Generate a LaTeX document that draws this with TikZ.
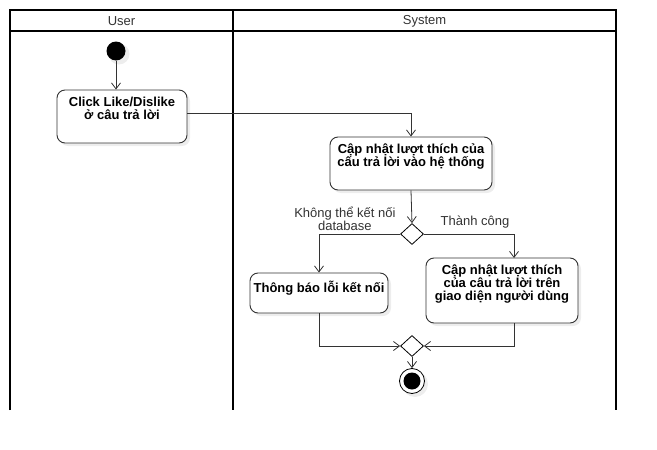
\documentclass[tikz,border=0pt]{standalone}
\usepackage{fontspec}
\setmainfont{Liberation Sans}
\usetikzlibrary{arrows.meta,shapes.geometric}
\definecolor{lnc}{HTML}{333333}
\definecolor{shd}{HTML}{EDEDED}
\tikzset{
  lane/.style={line width=2pt, black},
  actbox/.style={draw=lnc, line width=0.9pt, rounded corners=8pt, fill=white, inner sep=0pt},
  acttxt/.style={font=\bfseries\fontsize{13}{12.8}\selectfont, align=center, anchor=north, inner sep=0pt, text=black},
  hdr/.style={font=\fontsize{13}{13}\selectfont, text=lnc},
  lbl/.style={font=\fontsize{13}{13.5}\selectfont, text=lnc, align=center},
  flow/.style={draw=lnc, line width=0.8pt, -{Straight Barb[length=6pt,width=9pt,line width=0.8pt]}},
  decision/.style={draw=black, line width=0.8pt, fill=white, diamond, minimum width=23pt, minimum height=21pt, inner sep=0pt, aspect=1.1},
  shadowbox/.style={fill=shd, rounded corners=8pt, draw=none},
}
\begin{document}
\begin{tikzpicture}[x=1pt,y=-1pt]
\useasboundingbox (0,0) rectangle (657,450);
% swimlanes
\draw[lane] (10,410) -- (10,10) -- (616,10) -- (616,410);
\draw[lane] (233,10) -- (233,410);
\draw[lane] (10,31) -- (616,31);
\node[hdr] (hu) at (121.5,21.5) {User};
\node[hdr] (hs) at (424.5,21.5) {System};
% shadows
\fill[shadowbox] (60,93) rectangle (190,146);
\fill[shadowbox] (333,140) rectangle (495,193);
\fill[shadowbox] (253,276) rectangle (391,316);
\fill[shadowbox] (429,261) rectangle (581,326);
\fill[shd] (119,54) circle (10.5);
% initial node
\node[circle, fill=black, minimum size=19pt, inner sep=0pt] (start) at (116,51) {};
% actions
\node[actbox, minimum width=130pt, minimum height=53pt] (a1) at (122,116.5) {};
\node[acttxt] (t1) at ([yshift=-7.5pt]a1.north) {Click Like/Dislike\\ở câu trả lời};
\node[actbox, minimum width=162pt, minimum height=53pt] (a2) at (411,163.5) {};
\node[acttxt] (t2) at ([yshift=-7.5pt]a2.north) {Cập nhật lượt thích của\\cấu trả lời vào hệ thống};
\node[actbox, minimum width=138pt, minimum height=40pt] (a3) at (319,293) {};
\node[acttxt] (t3) at ([yshift=-8pt]a3.north) {Thông báo lỗi kết nối};
\node[actbox, minimum width=152pt, minimum height=65pt] (a4) at (502,290.5) {};
\node[acttxt] (t4) at ([yshift=-7pt]a4.north) {Cập nhật lượt thích\\của câu trả lời trên\\giao diện người dùng};
\coordinate (a1out) at (187,113);
\coordinate (a4in) at (514,258);
\coordinate (a4out) at (514,323);
% decisions
\node[decision] (d1) at (412,234) {};
\node[decision] (d2) at (412,346) {};
% final node
\fill[shd] (415,384) circle (13);
\node[circle, draw=black, line width=0.8pt, fill=white, minimum size=25pt, inner sep=0pt] (end) at (412,381) {};
\fill[black] (end.center) circle (8.5);
% flows
\draw[flow] (start) -- (start |- a1.north);
\draw[flow] (a1out) -| (a2.north);
\draw[flow] (a2.south) -- (d1.north);
\draw[flow] (d1.west) -| (a3.north);
\draw[flow] (d1.east) -| (a4in);
\draw[flow] (a3.south) |- (d2.west);
\draw[flow] (a4out) |- (d2.east);
\draw[flow] (d2.south) -- (end.north);
% labels
\node[lbl, anchor=south east] (l1) at (399,234.5) {Không thể kết nối\\database};
\node[lbl, anchor=south] (l2) at (475,232) {Thành công};
\end{tikzpicture}
\end{document}
